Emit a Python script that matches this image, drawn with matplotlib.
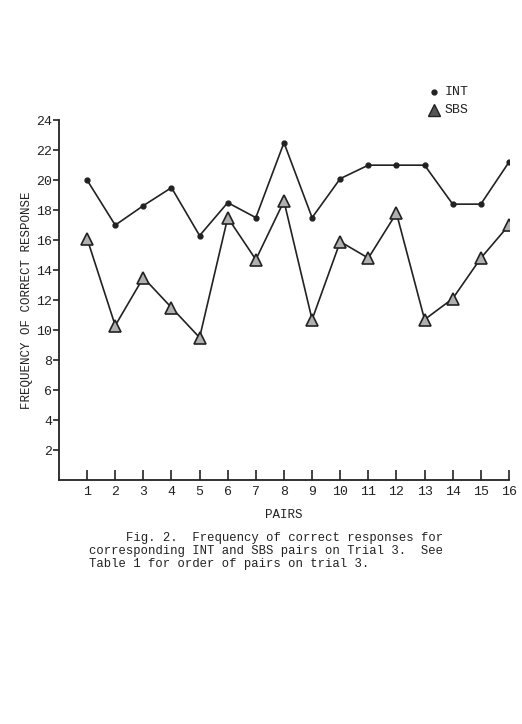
import matplotlib
matplotlib.use("Agg")
import matplotlib.pyplot as plt

pairs = list(range(1, 17))
int_vals = [20.0, 17.0, 18.3, 19.5, 16.3, 18.5, 17.5, 22.5,
            17.5, 20.1, 21.0, 21.0, 21.0, 18.4, 18.4, 21.2]
sbs_vals = [16.1, 10.3, 13.5, 11.5, 9.5, 17.5, 14.7, 18.6,
            10.7, 15.9, 14.8, 17.8, 10.7, 12.1, 14.8, 17.0]
y_ticks = [2, 4, 6, 8, 10, 12, 14, 16, 18, 20, 22, 24]

plt.rcParams['font.family'] = ['Liberation Mono', 'DejaVu Sans Mono']
ink = '#222222'

fig = plt.figure(figsize=(5.22, 7.24), dpi=100)
ax = fig.add_axes([0.113, 0.337, 0.862, 0.497])

ax.plot(pairs, int_vals, color=ink, lw=1.2, marker='o', ms=3.5,
        mfc=ink, mec=ink)
ax.plot(pairs, sbs_vals, color=ink, lw=1.2, marker='^', ms=9,
        mfc='#b0b0b0', mec=ink, mew=1.2)

ax.set_xlim(0, 16)
ax.set_ylim(0, 24)
ax.set_xticks(pairs)
ax.set_yticks(y_ticks)
ax.tick_params(axis='x', direction='in', length=7, width=1.2, pad=4,
               labelsize=9.5, colors=ink)
ax.tick_params(axis='y', direction='out', length=4, width=1.2, pad=1,
               labelsize=9.5, colors=ink)
for s in ['top', 'right']:
    ax.spines[s].set_visible(False)
for s in ['left', 'bottom']:
    ax.spines[s].set_linewidth(1.3)
    ax.spines[s].set_color(ink)

ax.set_ylabel('FREQUENCY OF CORRECT RESPONSE', fontsize=9, color=ink)
ax.yaxis.set_label_coords(-0.058, 0.5)
ax.set_xlabel('PAIRS', fontsize=9, color=ink, labelpad=8)

# legend drawn by hand at upper right
fig.lines.append(plt.Line2D([434 / 522], [1 - 92 / 724], marker='o', ms=3.5,
                            color=ink, transform=fig.transFigure))
fig.lines.append(plt.Line2D([434 / 522], [1 - 110 / 724], marker='^', ms=8,
                            mfc='#555555', mec=ink, color=ink,
                            transform=fig.transFigure))
fig.text(445 / 522, 1 - 92 / 724, 'INT', fontsize=9.5, color=ink, va='center')
fig.text(445 / 522, 1 - 110 / 724, 'SBS', fontsize=9.5, color=ink, va='center')

fig.text(126 / 522, 1 - 538 / 724,
         'Fig. 2.  Frequency of correct responses for',
         fontsize=8.8, color=ink, va='center')
fig.text(89 / 522, 1 - 551 / 724,
         'corresponding INT and SBS pairs on Trial 3.  See',
         fontsize=8.8, color=ink, va='center')
fig.text(89 / 522, 1 - 564 / 724,
         'Table 1 for order of pairs on trial 3.',
         fontsize=8.8, color=ink, va='center')

fig.savefig('out.png', dpi=100)
